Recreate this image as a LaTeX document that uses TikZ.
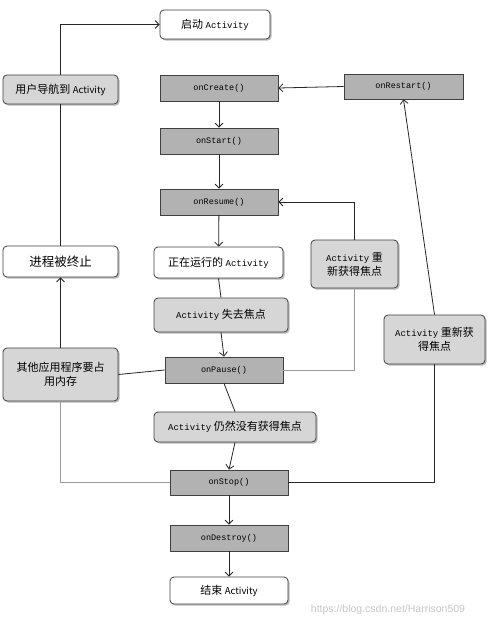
\documentclass[tikz,border=0pt]{standalone}
\usepackage{fontspec}
\setmainfont{Noto Sans CJK SC}
\setmonofont{Liberation Mono}
\newfontfamily\cjk{Noto Sans CJK SC}
\usetikzlibrary{arrows.meta,shadows}
\begin{document}
\begin{tikzpicture}[x=1pt,y=-1pt,
  every node/.style={inner sep=0pt, align=center, font=\fontsize{11}{14}\selectfont},
  sh/.style={drop shadow={shadow xshift=1.6pt, shadow yshift=-1.6pt, opacity=0.45, fill=black!60}},
  whitebox/.style={draw=black!75, fill=white, rounded corners=4pt, sh, line width=0.8pt},
  lightbox/.style={draw=black!75, fill=black!16, rounded corners=4pt, sh, line width=0.8pt},
  method/.style={draw=black!75, fill=black!30, line width=0.8pt, font=\ttfamily\fontsize{8.5}{10}\selectfont},
  conn/.style={draw=black!85, line width=0.8pt},
  arr/.style={conn, -{Straight Barb[length=4pt,width=8pt]}},
  faint/.style={draw=black!40, line width=0.6pt}
]
\useasboundingbox (0,0) rectangle (500,626);
\fill[white] (0,0) rectangle (500,626);

% nodes
\node[whitebox, minimum width=110pt, minimum height=29pt] (start) at (215,24.5) {启动 {\ttfamily\fontsize{9}{10}\selectfont Activity}};
\node[lightbox, minimum width=115pt, minimum height=29pt] (nav) at (60.5,89.5) {用户导航到 {\fontsize{9.5}{10}\selectfont Activity}};
\node[method, minimum width=118pt, minimum height=26pt] (create) at (219,88) {onCreate()};
\node[method, minimum width=119pt, minimum height=25pt] (restart) at (403.5,86.5) {onRestart()};
\node[method, minimum width=118pt, minimum height=26pt] (startm) at (219,141) {onStart()};
\node[method, minimum width=118pt, minimum height=26pt] (resume) at (219,202) {onResume()};
\node[whitebox, minimum width=129pt, minimum height=31pt] (running) at (218.5,262.5) {正在运行的 {\ttfamily\fontsize{9}{10}\selectfont Activity}};
\node[lightbox, minimum width=87pt, minimum height=48pt] (regainA) at (354.5,264) {{\ttfamily\fontsize{9}{10}\selectfont Activity} 重\\新获得焦点};
\node[whitebox, minimum width=115pt, minimum height=31pt, font=\fontsize{12.5}{14}\selectfont] (killed) at (60.5,261.5) {进程被终止};
\node[lightbox, minimum width=134pt, minimum height=34pt] (lose) at (221,315) {{\ttfamily\fontsize{9}{10}\selectfont Activity} 失去焦点};
\node[lightbox, minimum width=101pt, minimum height=49pt] (regainB) at (434.5,339.5) {{\ttfamily\fontsize{9}{10}\selectfont Activity} 重新获\\得焦点};
\node[lightbox, minimum width=115pt, minimum height=53pt] (other) at (60.5,374.5) {其他应用程序要占\\用内存};
\node[method, minimum width=118pt, minimum height=26pt] (pause) at (224,370) {onPause()};
\node[lightbox, minimum width=162pt, minimum height=30pt] (still) at (235,427) {{\ttfamily\fontsize{9}{10}\selectfont Activity} 仍然没有获得焦点};
\node[method, minimum width=118pt, minimum height=25pt] (stop) at (229,482.5) {onStop()};
\node[method, minimum width=118pt, minimum height=26pt] (destroy) at (229,538) {onDestroy()};
\node[whitebox, minimum width=118pt, minimum height=27pt] (end) at (229,590.5) {结束 {\fontsize{9.5}{10}\selectfont Activity}};
\node[text=black!22, font=\fontsize{10.5}{12}\selectfont] (wm) at (388,610) {\fontspec{Liberation Sans}https://blog.csdn.net/Harrison509};

% connectors
\draw[arr] (nav.north) |- (start.west);
\draw[conn] (killed.north) -- (nav.south);
\draw[arr] (other.north) -- (killed.south);
\draw[faint] (stop.west) -| (other.south);
\draw[conn] (pause.west) -- (other.east);
\draw[faint] (pause.east) -| (regainA.south);
\draw[arr] (regainA.north) |- (resume.east);
\draw[arr] (create) -- (startm);
\draw[arr] (startm) -- (resume);
\draw[arr] (resume) -- (running);
\draw[conn] (running.south) -- (lose.north);
\draw[arr] (lose.south) -- (pause.north);
\draw[conn] (pause.south) -- (still.north);
\draw[arr] (still.south) -- (stop.north);
\draw[arr] (stop) -- (destroy);
\draw[arr] (destroy) -- (end);
\draw[conn] (stop.east) -| (regainB.south);
\draw[arr] (regainB.north) -- (restart.south);
\draw[arr] (restart.west) -- (create.east);
\end{tikzpicture}
\end{document}
